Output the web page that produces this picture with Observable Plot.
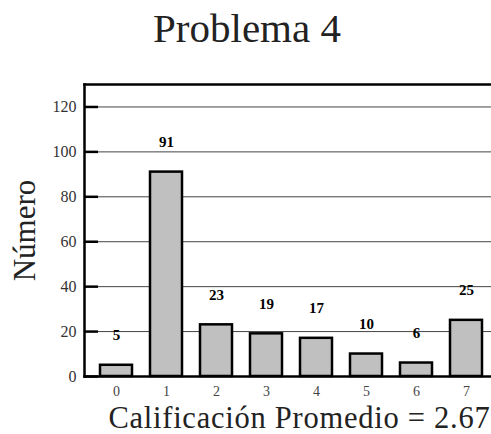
<!DOCTYPE html>
<html><head><meta charset="utf-8">
<script src="https://cdn.jsdelivr.net/npm/d3@7"></script>
<script src="https://cdn.jsdelivr.net/npm/@observablehq/plot@0.6"></script>
<style>
body{margin:0;background:#fff;}
#title{box-sizing:border-box;width:491px;height:60px;padding-top:8px;padding-left:3px;font-family:"Liberation Serif",serif;font-size:41px;line-height:41px;color:#222;text-align:center;}
#chart svg [aria-label="y-axis tick label"] {fill:#333;}
#chart svg [aria-label="x-axis tick label"] {fill:#444;}
</style></head>
<body>
<div id="title">Problema 4</div>
<div id="chart"></div>
<script>
const grades = ["0","1","2","3","4","5","6","7"];
const counts = [5, 91, 23, 19, 17, 10, 6, 25];
const yTicks = [0, 20, 40, 60, 80, 100, 120];
const yLabel = "Número";
const xLabel = "Calificación Promedio = 2.67";

const data = grades.map((g, i) => ({grade: g, count: counts[i]}));

const chart = Plot.plot({
  width: 491,
  height: 374,
  marginTop: 24,
  marginBottom: 58,
  marginLeft: 84,
  marginRight: 0,
  style: {fontFamily: "'Liberation Serif', serif", background: "#fff", color: "black"},
  x: {domain: grades, paddingInner: 0.36, paddingOuter: 0.18, insetLeft: 7, label: null},
  y: {domain: [0, 130], label: null},
  marks: [
    Plot.gridY(yTicks.filter(d => d > 0), {stroke: "#444", strokeOpacity: 1, strokeWidth: 1}),
    Plot.barY(data, {x: "grade", y: "count", fill: "#c0c0c0", stroke: "black", strokeWidth: 2.5}),
    Plot.text(data, {x: "grade", y: "count", text: d => String(d.count), dy: -30, fontWeight: "bold", fontSize: 15, fill: "black"}),
    Plot.axisY(yTicks, {tickSize: -14, tickPadding: 22, strokeWidth: 2.5, stroke: "black", fontSize: 16, label: null}),
    Plot.axisX({tickSize: 0, tickPadding: 9.5, fontSize: 14, label: null}),
    Plot.frame({anchor: "top", strokeWidth: 2.5}),
    Plot.frame({anchor: "left", strokeWidth: 2.5}),
    Plot.frame({anchor: "bottom", strokeWidth: 2.5}),
    Plot.text([yLabel], {frameAnchor: "left", textAnchor: "middle", lineAnchor: "middle", rotate: -90, dx: -59, fontSize: 31, fill: "#222"}),
    Plot.text([xLabel], {frameAnchor: "bottom-right", textAnchor: "end", lineAnchor: "bottom", dx: -1, dy: 51, fontSize: 30.5, fill: "#222"})
  ]
});
d3.select(chart).selectAll("text").filter(function() { return this.textContent === xLabel; }).style("letter-spacing", "0.75px");
document.getElementById("chart").appendChild(chart);
</script>
</body></html>
